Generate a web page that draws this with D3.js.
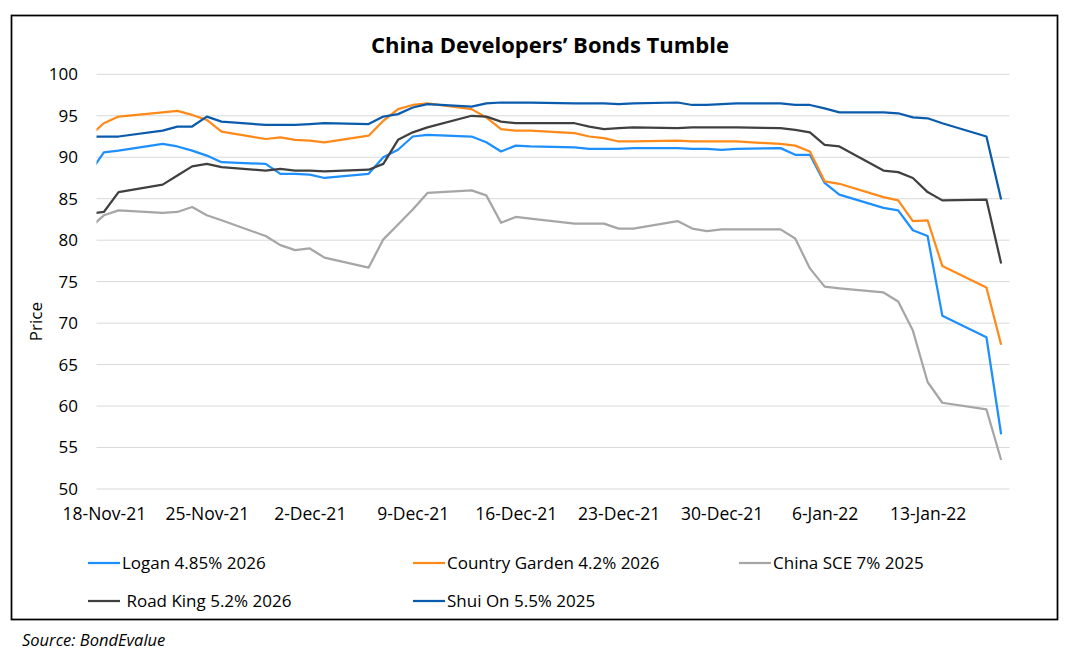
<!DOCTYPE html>
<html>
<head>
<meta charset="utf-8">
<script src="https://cdn.jsdelivr.net/npm/d3@7"></script>
<style>
  html, body { margin: 0; padding: 0; background: #ffffff; }
  svg { display: block; }
  text { font-family: "Open Sans", "Noto Sans", sans-serif; fill: #000; }
</style>
</head>
<body>
<svg id="chart" width="1070" height="661"></svg>
<script>
// ---------------- DATA ----------------
const dates = [
  "2021-11-17","2021-11-18","2021-11-19","2021-11-22","2021-11-23","2021-11-24","2021-11-25","2021-11-26",
  "2021-11-29","2021-11-30","2021-12-01","2021-12-02","2021-12-03",
  "2021-12-06","2021-12-07","2021-12-08","2021-12-09","2021-12-10",
  "2021-12-13","2021-12-14","2021-12-15","2021-12-16","2021-12-17",
  "2021-12-20","2021-12-21","2021-12-22","2021-12-23","2021-12-24",
  "2021-12-27","2021-12-28","2021-12-29","2021-12-30","2021-12-31",
  "2022-01-03","2022-01-04","2022-01-05","2022-01-06","2022-01-07",
  "2022-01-10","2022-01-11","2022-01-12","2022-01-13","2022-01-14",
  "2022-01-17","2022-01-18"
];

const logan = [
  88.0, 90.6, 90.8, 91.6, 91.3, 90.8, 90.2, 89.4,
  89.2, 88.0, 88.0, 87.9, 87.5,
  88.0, 90.0, 90.9, 92.5, 92.7,
  92.5, 91.8, 90.7, 91.4, 91.3,
  91.2, 91.0, 91.0, 91.0, 91.1,
  91.1, 91.0, 91.0, 90.9, 91.0,
  91.1, 90.3, 90.3, 86.9, 85.5,
  83.9, 83.6, 81.2, 80.5, 70.9,
  68.3, 56.6
];

const countryGarden = [
  92.5, 94.1, 94.9, 95.4, 95.6, 95.1, 94.5, 93.1,
  92.2, 92.4, 92.1, 92.0, 91.8,
  92.6, 94.4, 95.8, 96.3, 96.5,
  95.8, 94.8, 93.4, 93.2, 93.2,
  92.9, 92.5, 92.3, 91.9, 91.9,
  92.0, 91.9, 91.9, 91.9, 91.9,
  91.6, 91.4, 90.7, 87.1, 86.8,
  85.2, 84.8, 82.3, 82.4, 76.9,
  74.3, 67.4
];

const chinaSCE = [
  81.4, 83.0, 83.6, 83.3, 83.4, 84.0, 83.0, 82.4,
  80.5, 79.4, 78.8, 79.0, 77.9,
  76.7, 80.1, 81.9, 83.7, 85.7,
  86.0, 85.4, 82.1, 82.8, 82.6,
  82.0, 82.0, 82.0, 81.4, 81.4,
  82.3, 81.4, 81.1, 81.3, 81.3,
  81.3, 80.2, 76.6, 74.4, 74.2,
  73.7, 72.6, 69.1, 62.9, 60.4,
  59.6, 53.5
];

const roadKing = [
  83.2, 83.4, 85.8, 86.7, 87.8, 88.9, 89.2, 88.8,
  88.4, 88.6, 88.4, 88.4, 88.3,
  88.5, 89.2, 92.1, 93.0, 93.6,
  95.0, 94.9, 94.3, 94.1, 94.1,
  94.1, 93.7, 93.4, 93.5, 93.6,
  93.5, 93.6, 93.6, 93.6, 93.6,
  93.5, 93.3, 93.0, 91.5, 91.3,
  88.4, 88.2, 87.5, 85.8, 84.8,
  84.9, 77.2
];

const shuiOn = [
  92.5, 92.5, 92.5, 93.2, 93.7, 93.7, 94.9, 94.3,
  93.9, 93.9, 93.9, 94.0, 94.1,
  94.0, 94.9, 95.2, 96.0, 96.4,
  96.1, 96.5, 96.6, 96.6, 96.6,
  96.5, 96.5, 96.5, 96.4, 96.5,
  96.6, 96.3, 96.3, 96.4, 96.5,
  96.5, 96.3, 96.3, 95.9, 95.4,
  95.4, 95.3, 94.8, 94.7, 94.1,
  92.5, 84.9
];

const seriesNames = ["Logan 4.85% 2026", "Country Garden 4.2% 2026", "China SCE 7% 2025", " Road King 5.2% 2026", "Shui On 5.5% 2025"];
const seriesColors = ["#1E8FFF", "#FF8A1A", "#A6A6A6", "#404040", "#0B5BAC"];
const seriesValues = [logan, countryGarden, chinaSCE, roadKing, shuiOn];

const xTickLabels = ["18-Nov-21","25-Nov-21","2-Dec-21","9-Dec-21","16-Dec-21","23-Dec-21","30-Dec-21","6-Jan-22","13-Jan-22"];
const yTicks = [50, 55, 60, 65, 70, 75, 80, 85, 90, 95, 100];

const titleText = "China Developers\u2019 Bonds Tumble";
const yAxisTitle = "Price";
const sourceText = "Source: BondEvalue";

// ---------------- CHART ----------------
const svg = d3.select("#chart");
const parse = d3.timeParse("%Y-%m-%d");
const parseTick = d3.timeParse("%d-%b-%y");
const dateObjs = dates.map(parse);

const plotLeft = 96.5, plotRight = 1009.5, plotTop = 74.3, plotBottom = 489;

// Date axis: each day occupies a slot; axis spans 18-Nov-21 .. 18-Jan-22 (earlier data clipped)
const x = d3.scaleTime()
  .domain([d3.timeHour.offset(parse("2021-11-17"), 12), d3.timeHour.offset(parse("2022-01-18"), 12)])
  .range([plotLeft, 1008.5]);
const y = d3.scaleLinear().domain([50, 100]).range([plotBottom, plotTop]);

// Outer border
svg.append("rect")
  .attr("x", 11.5).attr("y", 15.5).attr("width", 1046).attr("height", 604)
  .attr("fill", "none").attr("stroke", "#000").attr("stroke-width", 1.75);

// Title
svg.append("text")
  .attr("x", 550).attr("y", 53)
  .attr("text-anchor", "middle")
  .style("font-weight", "bold").style("font-size", "22px")
  .text(titleText);

// Gridlines
svg.append("g").selectAll("line").data(yTicks).join("line")
  .attr("x1", plotLeft).attr("x2", plotRight)
  .attr("y1", d => y(d)).attr("y2", d => y(d))
  .attr("stroke", "#D9D9D9").attr("stroke-width", 1);

// Y axis labels
const yAxis = d3.axisLeft(y).tickValues(yTicks).tickSize(0).tickPadding(0);
const gy = svg.append("g").attr("transform", "translate(78,0)").call(yAxis);
gy.select(".domain").remove();
gy.selectAll("text").style("font-size", "17px").style("font-family", "'Open Sans', sans-serif").attr("fill", "#000");

// X axis labels
const xTickDates = xTickLabels.map(parseTick);
const xAxis = d3.axisBottom(x).tickValues(xTickDates).tickFormat((d, i) => xTickLabels[i]).tickSize(0).tickPadding(0);
const gx = svg.append("g").attr("transform", `translate(0,${plotBottom + 19})`).call(xAxis);
gx.select(".domain").remove();
gx.selectAll("text").style("font-size", "17.5px").style("font-family", "'Open Sans', sans-serif").attr("fill", "#000");

// Y axis title
svg.append("text")
  .attr("transform", `translate(42,${(plotTop + plotBottom) / 2 + 40}) rotate(-90)`)
  .attr("text-anchor", "middle")
  .style("font-size", "17px")
  .text(yAxisTitle);

// Clip
svg.append("clipPath").attr("id", "plotClip")
  .append("rect").attr("x", plotLeft).attr("y", 0).attr("width", plotRight - plotLeft).attr("height", 661);

const line = d3.line()
  .x(d => x(d.date))
  .y(d => y(d.value));

const lines = svg.append("g").attr("clip-path", "url(#plotClip)");
seriesValues.forEach((vals, i) => {
  const pts = dateObjs.map((dt, j) => ({ date: dt, value: vals[j] }));
  lines.append("path")
    .datum(pts)
    .attr("d", line)
    .attr("fill", "none")
    .attr("stroke", seriesColors[i])
    .attr("stroke-width", 2.25)
    .attr("stroke-linejoin", "round")
    .attr("stroke-linecap", "butt");
});

// Legend
const legendCols = [88, 413, 739];
const legendRows = [563, 601];
const legendG = svg.append("g");
seriesNames.forEach((name, i) => {
  const col = i < 3 ? i : i - 3;
  const row = i < 3 ? 0 : 1;
  const lx = legendCols[col], ly = legendRows[row];
  legendG.append("line")
    .attr("x1", lx).attr("x2", lx + 32)
    .attr("y1", ly).attr("y2", ly)
    .attr("stroke", seriesColors[i]).attr("stroke-width", 2.25);
  legendG.append("text")
    .attr("x", lx + 34).attr("y", ly)
    .attr("dy", "0.35em")
    .style("font-size", "17px")
    .style("white-space", "pre")
    .text(name);
});

// Source
svg.append("text")
  .attr("x", 22).attr("y", 646)
  .style("font-size", "16.5px").style("font-style", "italic")
  .text(sourceText);
</script>
</body>
</html>
